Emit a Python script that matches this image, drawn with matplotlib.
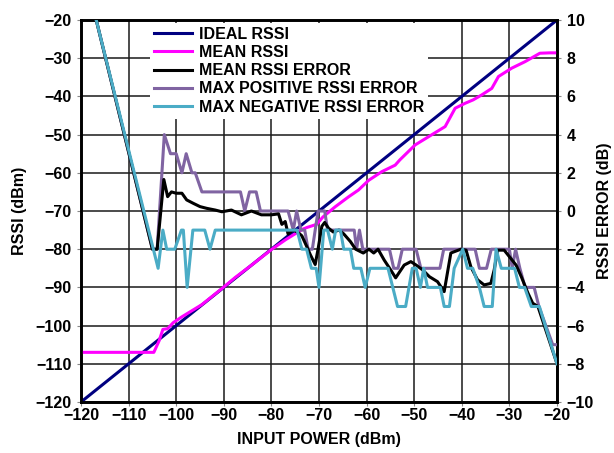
import matplotlib
matplotlib.use("Agg")
import matplotlib.pyplot as plt
from matplotlib.lines import Line2D

# ---------------- data ----------------
x_ticks = [-120, -110, -100, -90, -80, -70, -60, -50, -40, -30, -20]
rssi_ticks = [-120, -110, -100, -90, -80, -70, -60, -50, -40, -30, -20]
err_ticks = [-10, -8, -6, -4, -2, 0, 2, 4, 6, 8, 10]

ideal_x = [-120, -20]
ideal_y = [-120, -20]

mean_x = [-120, -104.7, -103.6, -102.8, -101.8, -100.6, -98.8, -94.6, -90.4, -87.6, -84, -80, -77,
          -75.7, -73.5, -72.5, -70.5, -69.2, -66.6, -63.8, -61.7, -59.6, -56.8, -54, -53,
          -49.8, -43.5, -41.4, -39.3, -37.6, -35.8, -33.7, -32.3, -29.5, -26.7, -23.6, -21.5, -20]
mean_y = [-107, -107, -104, -101, -100.8, -99.2, -97.7, -94.5, -90.3, -87.4, -84, -80.1, -77.5,
          -76.5, -74.8, -74.3, -73.5, -71.6, -68.9, -66.3, -64.5, -62, -59.7, -58, -56.6,
          -52.7, -47.9, -43.1, -41.8, -40.9, -39.6, -37.9, -34.8, -32.6, -30.9, -28.7, -28.6, -28.6]

err_mean_x = [-116.8, -105, -104, -102.6, -101.8, -101, -100, -98.8, -97.8, -96.4, -95, -93.6,
              -91.8, -90.4, -88.4, -86.3, -84.2, -82.1, -80, -78.5, -77.8, -77.1, -76.5, -75.5,
              -74.5, -73.6, -72.5, -71.8, -70.8, -70.2, -69.4, -68.8, -68, -67, -65.8, -64.8,
              -63.4, -62.3, -60.7, -59.5, -58.5, -57.6, -56.3, -54.9, -53.9, -52.1, -50.7,
              -49.6, -48.2, -46.8, -45.1, -43.7, -42.3, -40.2, -39.1, -38.1, -36.7, -35.3,
              -33.9, -33.2, -32.5, -31.1, -28.6, -27.5, -26.1, -25.1, -24, -20]
err_mean_y = [10, -2, -2, 1.65, 0.75, 1.0, 0.93, 0.93, 0.58, 0.4, 0.23, 0.14,
              0.05, -0.04, 0.05, -0.2, 0, -0.2, -0.2, -0.15, -0.7, -0.55, -1.2, -1.0,
              -1.1, -1.3, -1.9, -2.3, -2.8, -2.0, -0.8, -0.6, -0.9, -1.1, -1.0, -1.2,
              -1.6, -2.0, -2.2, -2.0, -2.2, -2.0, -2.57, -3.1, -3.5, -2.83, -2.65,
              -2.83, -3.09, -3.44, -3.7, -4.22, -2.2, -2.0, -2.05, -2.92, -3.6, -3.87,
              -3.79, -3.09, -2.05, -2.05, -2.83, -3.44, -4.3, -4.83, -5, -8]

err_pos_x = [-116.8, -105, -104, -102.5, -101.2, -100, -98.8, -97.9, -96.7, -96, -94.6, -86.5,
             -85.6, -84.6, -83.2, -82.3, -76.5, -75.4, -74.7, -73.8, -73, -72.3, -71.4, -70.2,
             -68.8, -68.2, -62.6, -62.1, -61.5, -60.8, -55.2, -54.3, -53.4, -52.5, -49.6,
             -48.6, -44.6, -43.8, -37.2, -36.3, -34.8, -33.8, -30, -29.4, -28.7, -27.8, -26.7,
             -24.8, -23.8, -20.9, -20]
err_pos_y = [10, -2, -2, 4, 3, 3, 2, 3, 2, 2, 1, 1,
             0, 1, 1, 0, 0, -1, 0, -1, -1, -2, -2, 0,
             0, -1, -1, -2, -1, -2, -2, -3, -3, -2, -2,
             -3, -3, -2, -2, -3, -3, -2, -2, -3, -2, -3, -4,
             -4, -5, -7, -7]

err_neg_x = [-116.8, -103.8, -102.8, -102, -100.3, -98.9, -98.5, -97.7, -96.5, -94, -92.9,
             -91.8, -74.6, -73.6, -72.6, -71.6, -70.6, -70, -69, -68.2, -67.2, -66.5, -65.5,
             -64.8, -63.4, -62.7, -61.2, -60.3, -59.3, -55.5, -54.5, -53.5, -51.8, -50.4,
             -49.6, -48.7, -48, -47.2, -44.5, -43.7, -42.6, -41.6, -39.8, -38.8, -37.7, -36.3,
             -35.3, -33.6, -32.8, -31.7, -28.9, -27.9, -26.8, -25.4, -23.7, -20]
err_neg_y = [10, -3, -1, -2, -2, -1, -1, -4, -1, -1, -2,
             -1, -1, -2, -2, -3, -3, -4, -1, -1, -2, -1, -1,
             -2, -2, -3, -3, -4, -3, -3, -4, -5, -5, -3,
             -3, -4, -3, -4, -4, -5, -5, -3, -2, -3, -3, -4,
             -5, -5, -2, -3, -3, -4, -4, -5, -5, -8]

labels = ["IDEAL RSSI", "MEAN RSSI", "MEAN RSSI ERROR",
          "MAX POSITIVE RSSI ERROR", "MAX NEGATIVE RSSI ERROR"]
colors = ["#000080", "#FF00FF", "#000000", "#8064A2", "#4BACC6"]

# ---------------- style ----------------
plt.rcParams['font.family'] = ['Liberation Sans', 'DejaVu Sans']
plt.rcParams['font.weight'] = 'bold'
FS = 11.5
LW = 2.2

fig = plt.figure(figsize=(6.14, 4.53), dpi=100)
ax = fig.add_axes([81/614, 1-402/453, (557-81)/614, (402-20)/453])
ax2 = ax.twinx()

ax.plot(ideal_x, ideal_y, color=colors[0], lw=LW, zorder=3)
ax.plot(mean_x, mean_y, color=colors[1], lw=LW, zorder=4)
ax2.plot(err_pos_x, err_pos_y, color=colors[3], lw=LW, zorder=3)
ax2.plot(err_mean_x, err_mean_y, color=colors[2], lw=LW, zorder=4)
ax2.plot(err_neg_x, err_neg_y, color=colors[4], lw=LW, zorder=5)

ax.set_xlim(-120, -20)
ax.set_ylim(-120, -20)
ax2.set_ylim(-10, 10)
ax.set_xticks(x_ticks)
ax.set_yticks(rssi_ticks)
ax2.set_yticks(err_ticks)

ax.grid(True, color='#1a1a1a', lw=1.1)
ax.set_axisbelow(True)

for a in (ax, ax2):
    for s in a.spines.values():
        s.set_linewidth(1.9)
        s.set_color('black')
    a.tick_params(labelsize=FS, length=3, width=0.8, color='#888888', pad=4)
ax.tick_params(axis='x', pad=1)

for lab in ax.get_xticklabels() + ax.get_yticklabels() + ax2.get_yticklabels():
    lab.set_fontweight('bold')

ax.set_xlabel("INPUT POWER (dBm)", fontsize=FS, fontweight='bold', labelpad=7)
ax.set_ylabel("RSSI (dBm)", fontsize=FS, fontweight='bold', labelpad=6)
ax2.set_ylabel("RSSI ERROR (dB)", fontsize=FS, fontweight='bold', labelpad=2, rotation=90)

handles = [Line2D([], [], color=c, lw=LW) for c in colors]
leg = ax2.legend(handles, labels, loc='upper left', bbox_to_anchor=(69/476, 0.993),
                 frameon=True, fancybox=False, framealpha=1, facecolor='white',
                 edgecolor='none', handlelength=2.35, handletextpad=0.45,
                 labelspacing=0.2, borderpad=0.26, borderaxespad=0.0,
                 prop={'weight': 'bold', 'size': FS})
leg.set_zorder(10)

fig.savefig("out.png", dpi=100)
